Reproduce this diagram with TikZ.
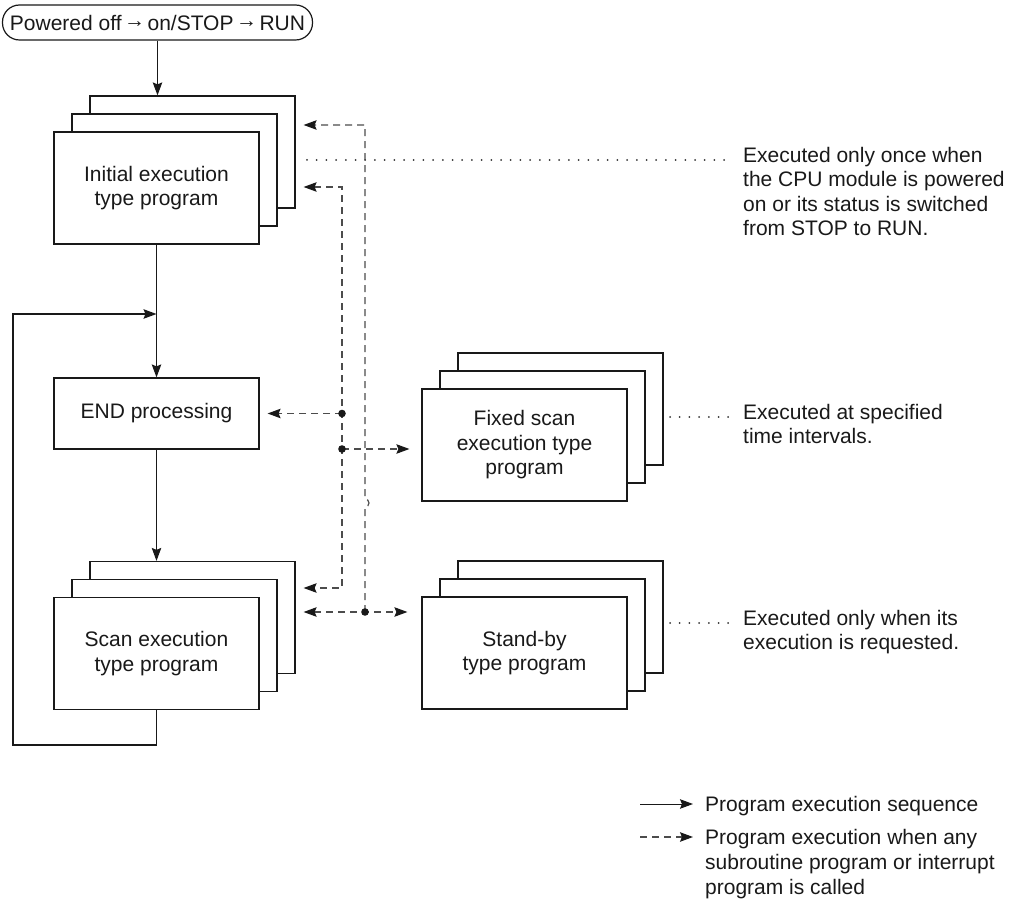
\documentclass[tikz,border=0pt]{standalone}
\usepackage{fontspec}
\setmainfont{Liberation Sans}
\usetikzlibrary{arrows.meta}
\newcommand\mkstack[4]{%
  \node[plate] (#13) at (#2+36,#3-36) {};
  \node[plate] (#12) at (#2+18,#3-18) {};
  \node[plate] (#1) at (#2,#3) {#4};
}
\newcommand\rarr{\kern2.5pt\raisebox{2.5pt}{→}\kern2.5pt}
\begin{document}
\begin{tikzpicture}[x=1pt,y=-1pt,
  every node/.style={font=\fontsize{21}{24.5}\selectfont, inner sep=0pt, text=black!90},
  plate/.style={draw=black!90, fill=white, line width=1.2pt, minimum width=205pt, minimum height=112pt, align=center},
  flow/.style={draw=black!90, line width=1.1pt, -{Stealth[length=13pt,width=9.5pt,inset=2pt]}},
  calltip/.style={-{Stealth[length=13pt,width=9.5pt,inset=2pt,color=black!90]}},
  bothtip/.style={{Stealth[length=13pt,width=9.5pt,inset=2pt,color=black!90]}-{Stealth[length=13pt,width=9.5pt,inset=2pt,color=black!90]}},
  call/.style={draw=black!70, line width=1.2pt, dash pattern=on 7pt off 5pt},
  dotline/.style={draw=black!80, line width=2pt, line cap=round, dash pattern=on 0pt off 9.7pt},
  jdot/.style={fill=black!90}]
\useasboundingbox (0,0) rectangle (1013,901);

% start terminal
\node[draw=black!90, line width=1.2pt, rounded corners=17pt, minimum width=310pt, minimum height=35pt] (start) at (157.5,22.5) {Powered off\rarr on/STOP\rarr RUN};

% stacks
\mkstack{init}{156.5}{188}{Initial execution\\type program}
\mkstack{scan}{156.5}{653.5}{Scan execution\\type program}
\mkstack{fixed}{524.5}{445}{Fixed scan\\execution type\\program}
\mkstack{stby}{524.5}{653}{Stand-by\\type program}

% END processing
\node[plate, minimum height=71pt] (end) at (156.5,413.5) {END processing};

% solid flow
\draw[flow] (start.south) -- (start.south |- init3.north);
\draw[flow] (init.south) -- (end.north);
\draw[flow] (end.south) -- (end.south |- scan3.north);
\coordinate (join) at (156.5,314);
\coordinate (loopA) at (156.5,745);
\coordinate (loopB) at (13,745);
\coordinate (loopC) at (13,314);
\draw[flow] (scan.south) -- (loopA) -- (loopB) -- (loopC) -- (join);

% dashed call lines
\coordinate (a1) at (365,125);
\coordinate (a2) at (365,612);
\coordinate (hopb) at (365,507);
\coordinate (b1) at (342,187);
\coordinate (b2) at (342,588);
\coordinate (bd1) at (342,413.5);
\coordinate (bd2) at (342,449);

\draw[call, calltip, shorten >=8pt] (a2) -- (hopb) arc[start angle=-90, end angle=90, radius=4pt] -- (a1) -- (a1 -| init3.east);
\draw[call, bothtip, shorten >=8pt, shorten <=8pt] (b1 -| init3.east) -- (b1) -- (b2) -- (b2 -| scan3.east);
\draw[call, calltip, shorten >=8pt] (bd1) -- (bd1 -| end.east);
\draw[call, calltip, shorten >=12pt] (bd2) -- (bd2 -| fixed.west);
\draw[call, bothtip, shorten <=8pt, shorten >=14pt] (a2 -| scan3.east) -- (a2 -| stby.west);
\fill[jdot] (bd1) circle[radius=3.8pt];
\fill[jdot] (bd2) circle[radius=3.8pt];
\fill[jdot] (a2) circle[radius=3.8pt];

% notes
\node[anchor=north west, align=left] (n1) at (743,147) {Executed only once when\\the CPU module is powered\\on or its status is switched\\from STOP to RUN.};
\node[anchor=north west, align=left] (n2) at (743,404) {Executed at specified\\time intervals.};
\node[anchor=north west, align=left] (n3) at (743,610) {Executed only when its\\execution is requested.};
\coordinate (d1a) at (307,160);
\coordinate (d1b) at (725,160);
\coordinate (d2a) at (670,417);
\coordinate (d2b) at (735,417);
\coordinate (d3a) at (670,623);
\coordinate (d3b) at (735,623);
\draw[dotline] (d1a) -- (d1b);
\draw[dotline] (d2a) -- (d2b);
\draw[dotline] (d3a) -- (d3b);

% legend
\node[anchor=north west, align=left] (l1) at (705,796) {Program execution sequence};
\node[anchor=north west, align=left, font=\fontsize{21}{25}\selectfont] (l2) at (705,829) {Program execution when any\\subroutine program or interrupt\\program is called};
\coordinate (ls1) at (640,804);
\coordinate (ls2) at (693,804);
\coordinate (ld1) at (640,837);
\coordinate (ld2) at (693,837);
\draw[flow, line width=1pt] (ls1) -- (ls2);
\draw[call, calltip] (ld1) -- (ld2);
\end{tikzpicture}
\end{document}
